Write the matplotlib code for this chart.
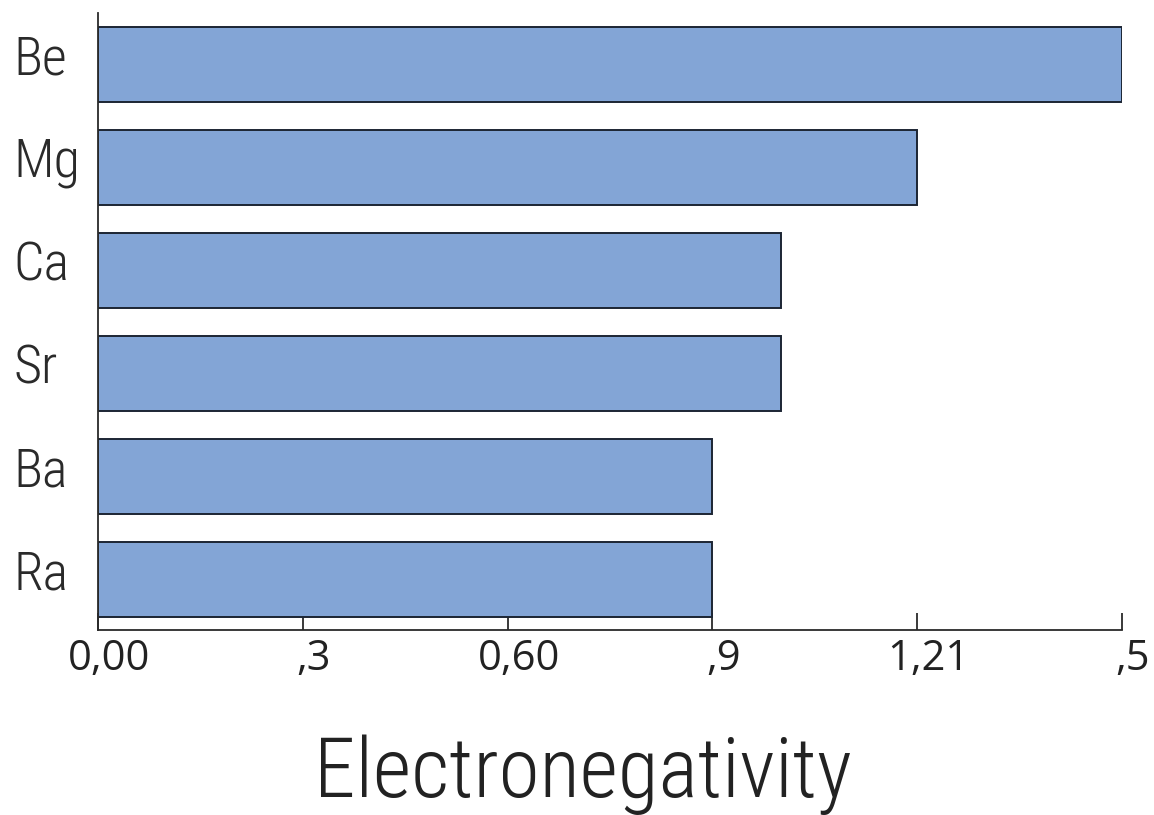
import matplotlib
matplotlib.use("Agg")
import matplotlib.pyplot as plt
from matplotlib import font_manager
from matplotlib.transforms import ScaledTranslation

elements = ["Be", "Mg", "Ca", "Sr", "Ba", "Ra"]
electronegativity = [1.5, 1.2, 1.0, 1.0, 0.9, 0.9]
tick_values = [0.0, 0.3, 0.6, 0.9, 1.2, 1.5]
tick_labels = ["0,00", ",3", "0,60", ",9", "1,21", ",5"]

available = {f.name for f in font_manager.fontManager.ttflist}


def pick(candidates):
    for name in candidates:
        if name in available:
            return name
    return "DejaVu Sans"


label_font = pick(["Roboto Condensed", "Open Sans", "Noto Sans"])
tick_font = pick(["Open Sans", "Noto Sans"])
title_font = pick(["Roboto Condensed", "Roboto"])

W, H = 1154, 815
fig = plt.figure(figsize=(W / 100, H / 100), dpi=100)
ax = fig.add_axes([98 / W, 1 - 630 / H, (1122 - 98) / W, (630 - 13) / H])

ypos = list(range(len(elements)))
ax.barh(ypos, electronegativity, height=0.72, color="#83a5d6",
        edgecolor="#1c2533", linewidth=1.4, zorder=2)

ax.set_xlim(0, 1.5)
ax.set_ylim(5.49, -0.5)

for side in ("top", "right"):
    ax.spines[side].set_visible(False)
for side in ("left", "bottom"):
    ax.spines[side].set_color("#2a2a2a")
    ax.spines[side].set_linewidth(1.3)

ax.set_xticks(tick_values)
ax.set_xticklabels(tick_labels, fontsize=30, family=tick_font, color="#222222")
ax.tick_params(axis="x", direction="in", length=12, width=1.3,
               color="#2a2a2a", pad=6)
shift = ScaledTranslation(11 / 100, 0, fig.dpi_scale_trans)
for lbl in ax.get_xticklabels():
    lbl.set_transform(lbl.get_transform() + shift)

ax.set_yticks(ypos)
ax.set_yticklabels(elements, fontsize=39, family=label_font,
                   fontweight="light", color="#2a2a2a", ha="left", va="center")
ax.tick_params(axis="y", length=0, pad=61)
lift = ScaledTranslation(0, 5 / 100, fig.dpi_scale_trans)
for lbl in ax.get_yticklabels():
    lbl.set_transform(lbl.get_transform() + lift)

fig.text(583 / W, 1 - 797 / H, "Electronegativity", ha="center",
         va="baseline", fontsize=60, family=title_font, fontweight="light",
         color="#222222")

fig.savefig("out.png", dpi=100, facecolor="white")
